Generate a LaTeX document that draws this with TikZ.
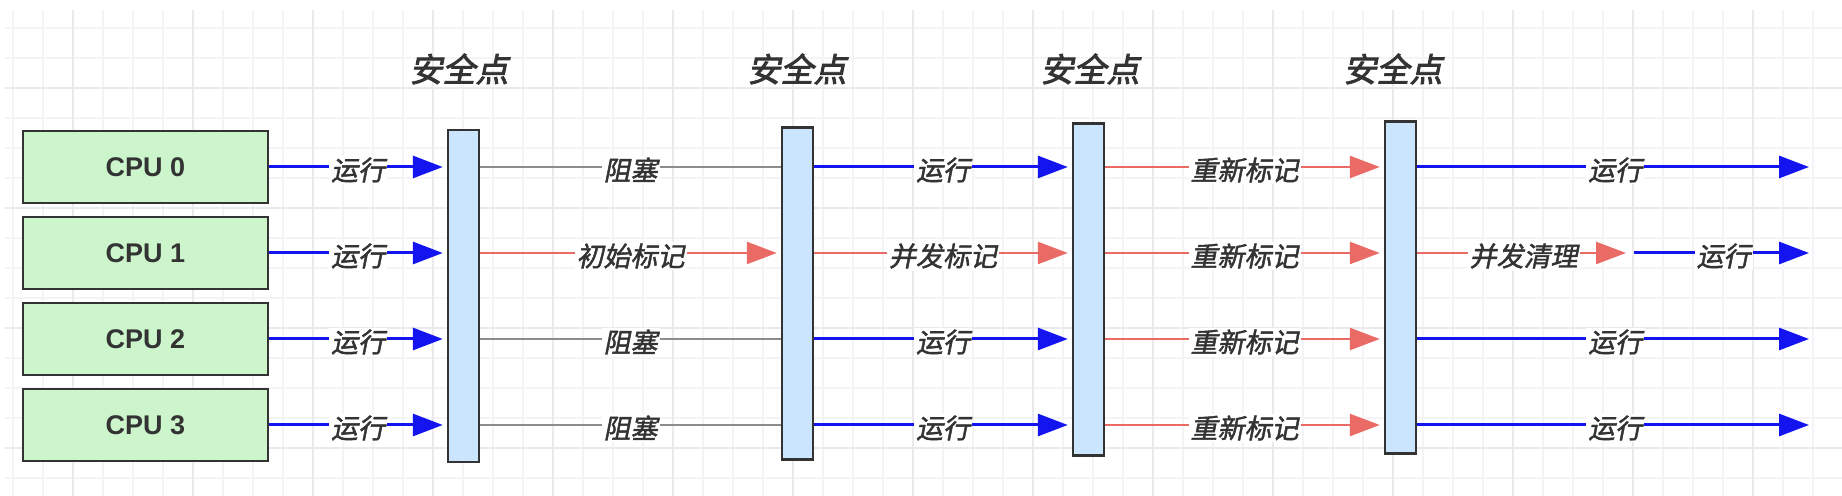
\documentclass[tikz,border=0pt]{standalone}
\usepackage{fontspec}
\setmainfont{Liberation Sans}
\newfontfamily\cjk{Noto Sans CJK SC}[FakeSlant=0.2,FakeBold=1.6]
\newfontfamily\cjkbold{Noto Sans CJK SC}[FakeSlant=0.2,FakeBold=2.5]
\usetikzlibrary{positioning,arrows.meta}
\definecolor{cpugreen}{HTML}{CCF5CC}
\definecolor{barblue}{HTML}{CCE5FF}
\definecolor{runblue}{HTML}{1414F0}
\definecolor{markred}{HTML}{EA6B66}
\definecolor{waitgray}{HTML}{8C8C8C}
\definecolor{textgray}{HTML}{333333}
\definecolor{gridminor}{HTML}{F4F4F6}
\definecolor{gridmajor}{HTML}{EAEAEE}

\begin{document}
\begin{tikzpicture}[x=0.5pt,y=-0.5pt,
  cpu/.style = {draw=textgray, line width=1.2pt, fill=cpugreen, minimum width=122.5pt, minimum height=36pt, font=\bfseries\fontsize{13.5}{15}\selectfont, text=textgray},
  bar/.style = {draw=textgray, line width=1.2pt, fill=barblue, minimum width=15.5pt, minimum height=166pt, inner sep=0pt},
  safe/.style = {font=\cjkbold\fontsize{16.5}{18}\selectfont, text=textgray},
  lbl/.style = {font=\cjk\fontsize{13.5}{15}\selectfont, text=textgray, fill=white, inner sep=1pt, yshift=-1.5pt},
  run/.style = {draw=runblue, line width=1.5pt, shorten >=2pt, -{Triangle[length=15pt,width=11pt]}},
  gcmark/.style = {draw=markred, line width=1.2pt, shorten >=2pt, -{Triangle[length=15pt,width=11pt]}},
  wait/.style = {draw=waitgray, line width=1pt},
  node distance=43pt, on grid]
\useasboundingbox[fill=white] (0,0) rectangle (1842,496);
% grid
\foreach \x in {13,43,...,1842} \draw[gridminor, line width=0.6pt] (\x,10) -- (\x,496);
\foreach \y in {28,58,...,496} \draw[gridminor, line width=0.6pt] (5,\y) -- (1842,\y);
\foreach \x in {73,193,...,1842} \draw[gridmajor, line width=0.8pt] (\x,10) -- (\x,496);
\foreach \y in {88,208,...,496} \draw[gridmajor, line width=0.8pt] (5,\y) -- (1842,\y);

\node[cpu] (cpu0) at (145.5,167) {CPU 0};
\node[cpu] (cpu1) [below=of cpu0] {CPU 1};
\node[cpu] (cpu2) [below=of cpu1] {CPU 2};
\node[cpu] (cpu3) [below=of cpu2] {CPU 3};

\node[bar] (sp1) at (463.5,296) {};
\node[bar] (sp2) at (797.5,293.5) {};
\node[bar] (sp3) at (1088.5,289.5) {};
\node[bar] (sp4) at (1400.5,287.5) {};
\foreach \b/\x in {sp1/459,sp2/797,sp3/1090,sp4/1393}
  \node[safe] (t\b) at (\x,69) {安全点};

\coordinate (clean) at (1630,0);
\coordinate (rerun) at (1634,0);
\coordinate (fin) at (1813,0);

\foreach \i in {0,...,3}
  \draw[run] (cpu\i) -- (sp1.west |- cpu\i) node[lbl,midway] {运行};
\foreach \i in {0,2,3}
  \draw[wait] (sp1.east |- cpu\i) -- (sp2.west |- cpu\i) node[lbl,midway] {阻塞};
\draw[gcmark] (sp1.east |- cpu1) -- (sp2.west |- cpu1) node[lbl,midway] {初始标记};
\foreach \i in {0,2,3}
  \draw[run] (sp2.east |- cpu\i) -- (sp3.west |- cpu\i) node[lbl,midway] {运行};
\draw[gcmark] (sp2.east |- cpu1) -- (sp3.west |- cpu1) node[lbl,midway] {并发标记};
\foreach \i in {0,...,3}
  \draw[gcmark] (sp3.east |- cpu\i) -- (sp4.west |- cpu\i) node[lbl,midway] {重新标记};
\foreach \i in {0,2,3}
  \draw[run] (sp4.east |- cpu\i) -- (fin |- cpu\i) node[lbl,midway] {运行};
\draw[gcmark] (sp4.east |- cpu1) -- (clean |- cpu1) node[lbl,midway] {并发清理};
\draw[run] (rerun |- cpu1) -- (fin |- cpu1) node[lbl,midway] {运行};
\end{tikzpicture}
\end{document}
